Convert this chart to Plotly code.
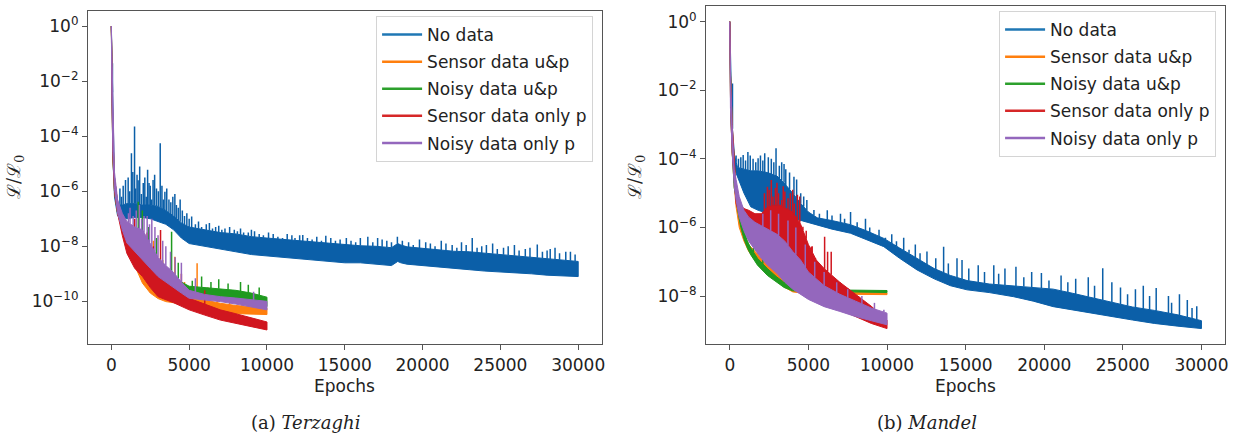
import numpy as np
import plotly.graph_objects as go

# ---------------- DATA (log10 of L/L0) ----------------
series_names = ["No data", "Sensor data u&p", "Noisy data u&p", "Sensor data only p", "Noisy data only p"]
x_ticks = [0, 5000, 10000, 15000, 20000, 25000, 30000]
left_y_exps = [0, -2, -4, -6, -8, -10]
right_y_exps = [0, -2, -4, -6, -8]
captions = ["(a) <i>Terzaghi</i>", "(b) <i>Mandel</i>"]

# ---- (a) Terzaghi ----
T_nodata_ep = [0, 40, 100, 200, 400, 700, 1000, 1500, 2000, 2500, 3000, 3500, 4000, 4500, 5000, 6000, 7000, 8000, 9000, 10000,
               11000, 12000, 13000, 14000, 15000, 16000, 17000, 18000, 18400, 18600, 19000, 20000, 21000, 22000, 23000,
               24000, 25000, 26000, 27000, 28000, 29000, 30000]
T_nodata_hi = [0, -1.3, -3.5, -5.6, -6.5, -6.5, -6.45, -6.45, -6.5, -6.5, -6.55, -6.7, -6.9, -7.15, -7.3, -7.4, -7.5, -7.55, -7.65, -7.7,
               -7.75, -7.8, -7.85, -7.9, -7.95, -7.98, -8.0, -8.05, -7.9, -7.95, -8.02, -8.08, -8.12, -8.18, -8.2,
               -8.25, -8.3, -8.35, -8.4, -8.45, -8.5, -8.55]
T_nodata_lo = [0, -2.5, -4.8, -6.2, -6.9, -7.0, -7.0, -6.95, -6.95, -7.0, -7.1, -7.2, -7.4, -7.7, -7.9, -8.0, -8.1, -8.2, -8.3, -8.35,
               -8.4, -8.45, -8.5, -8.55, -8.6, -8.6, -8.65, -8.7, -8.55, -8.6, -8.65, -8.7, -8.75, -8.8, -8.85,
               -8.9, -8.92, -8.97, -9.0, -9.05, -9.08, -9.1]
T_nodata_spk_ep = [70, 550, 650, 760, 910, 1080, 1180, 1290, 1380, 1490, 1560, 1650, 1720, 1820, 1930, 2050, 2150, 2240, 2330,
                   2420, 2500, 2590, 2680, 2780, 2900, 3020, 3140, 3250, 3340, 3440, 3560, 3700, 3820, 3950, 4080, 4180,
                   4300, 4420, 4560, 4700, 4850, 5000, 5160, 5400, 5600, 5800, 6100, 6300, 6500, 6700, 6900, 7100, 7300,
                   7600, 7900, 8100, 8300, 8500, 8800, 9000, 9200, 9500, 9770, 10100, 10400, 10700, 11000, 11300, 11600,
                   11800, 12100, 12300, 12600, 12900, 13200, 13500, 13780, 14100, 14400, 14700, 15100, 15400, 15700,
                   16000, 16480, 16800, 17110, 17400, 17700, 18000, 18380, 18700, 19100, 19400, 19800, 20200, 20500,
                   20800, 21200, 21500, 21900, 22200, 22500, 22800, 23190, 23500, 23800, 24100, 24500, 24800, 25200,
                   25500, 25900, 26200, 26600, 26900, 27370, 27700, 28000, 28200, 28510, 28800, 29200, 29500, 29800]
T_nodata_spk_top = [-1.35, -5.9, -6.2, -5.8, -5.59, -5.5, -6.0, -4.62, -5.3, -3.65, -5.9, -5.4, -5.6, -5.1, -6.1, -5.7, -5.5, -6.2, -5.22,
                    -5.7, -5.8, -6.3, -5.59, -5.4, -5.9, -6.0, -4.26, -5.8, -6.3, -6.02, -5.9, -6.3, -6.4, -6.2, -6.1, -6.5,
                    -6.6, -6.3, -6.7, -6.9, -6.8, -7.0, -6.92, -7.2, -7.1, -7.3, -7.2, -7.15, -7.35, -7.3, -7.25, -7.4, -7.35,
                    -7.3, -7.4, -7.45, -7.35, -7.5, -7.5, -7.4, -7.45, -7.55, -7.6, -7.5, -7.55, -7.65, -7.7, -7.55, -7.6,
                    -7.7, -7.6, -7.59, -7.7, -7.75, -7.65, -7.8, -7.62, -7.7, -7.8, -7.75, -7.7, -7.8, -7.85,
                    -7.7, -7.65, -7.85, -7.7, -7.75, -7.8, -7.85, -7.65, -7.8, -7.85, -7.95, -7.75, -7.85, -7.9,
                    -8.0, -7.8, -7.9, -7.95, -8.05, -7.85, -7.95, -7.7, -8.05, -8.0, -7.95, -7.9, -8.1, -8.05,
                    -8.0, -7.95, -8.15, -8.1, -8.05, -7.93, -8.2, -8.15, -8.1, -8.05, -8.25, -8.2, -8.2, -8.3]

T_sensor_up_ep = [0, 40, 100, 200, 400, 700, 1000, 1500, 2000, 2500, 3000, 3500, 4000, 5000, 6000, 7000, 8000, 9000, 10000]
T_sensor_up_hi = [0, -1.8, -4.0, -5.5, -6.4, -6.9, -7.3, -7.9, -8.2, -8.6, -8.9, -9.2, -9.5, -9.83, -9.95, -10.07, -10.15, -10.2, -10.25]
T_sensor_up_lo = [0, -2.8, -4.8, -6.0, -6.8, -7.4, -7.9, -8.7, -9.34, -9.7, -9.9, -10.01, -10.05, -10.19, -10.3, -10.43, -10.46, -10.47, -10.48]
T_sensor_up_spk_ep = [2700, 3300, 4080, 4700, 5510, 6200, 6800, 7600, 8400, 9100]
T_sensor_up_spk_top = [-7.8, -8.5, -8.38, -9.3, -8.62, -9.5, -9.7, -9.8, -9.9, -9.9]

T_noisy_up_ep = [0, 40, 100, 200, 400, 700, 1000, 1500, 2000, 2500, 3000, 3500, 4000, 4500, 5000, 6000, 7000, 8000, 9000, 10000]
T_noisy_up_hi = [0, -1.8, -4.0, -5.5, -6.4, -6.9, -7.3, -7.7, -8.0, -8.3, -8.6, -8.9, -9.1, -9.3, -9.45, -9.5, -9.55, -9.6, -9.7, -9.85]
T_noisy_up_lo = [0, -2.8, -4.8, -6.0, -6.8, -7.3, -7.8, -8.5, -9.0, -9.3, -9.5, -9.65, -9.75, -9.8, -9.8, -9.85, -9.89, -9.95, -10.05, -10.19]
T_noisy_up_spk_ep = [1730, 1990, 2400, 2900, 3870, 4300, 5200, 5800, 6400, 6900, 7500, 8300, 8800, 9500]
T_noisy_up_spk_top = [-6.38, -6.7, -7.3, -7.7, -7.47, -8.6, -9.25, -9.1, -9.3, -9.2, -9.35, -9.3, -9.4, -9.5]

T_sensor_p_ep = [0, 40, 100, 200, 400, 700, 1000, 1500, 2000, 2500, 3000, 3500, 4000, 5000, 6000, 7000, 8000, 9000, 10000]
T_sensor_p_hi = [0, -1.8, -4.0, -5.5, -6.4, -6.9, -7.4, -8.0, -8.5, -8.8, -9.0, -9.3, -9.5, -9.89, -10.1, -10.31, -10.45, -10.6, -10.75]
T_sensor_p_lo = [0, -2.8, -4.8, -6.0, -6.8, -7.6, -8.26, -8.8, -9.1, -9.5, -9.83, -9.95, -10.05, -10.31, -10.5, -10.68, -10.8, -10.92, -11.04]
T_sensor_p_spk_ep = [1500, 2300, 2700, 3160, 4500, 6000]
T_sensor_p_spk_top = [-7.0, -7.5, -8.0, -7.41, -9.0, -9.6]

T_noisy_p_ep = [0, 30, 100, 200, 400, 700, 1000, 1500, 2000, 2500, 3000, 3500, 4000, 4500, 5000, 6000, 7000, 8000, 9000, 10000]
T_noisy_p_hi = [0, -1.0, -3.5, -5.3, -6.3, -6.8, -7.1, -7.3, -7.4, -7.9, -8.4, -8.7, -8.95, -9.3, -9.6, -9.75, -9.83, -9.88, -9.95, -10.0]
T_noisy_p_lo = [0, -2.5, -4.6, -5.9, -6.8, -7.4, -7.88, -8.2, -8.5, -8.8, -9.1, -9.3, -9.5, -9.7, -9.89, -9.95, -10.01, -10.1, -10.2, -10.31]
T_noisy_p_spk_ep = [1100, 1200, 1400, 1600, 1800, 1950, 2100, 2300, 2450, 2600, 2800, 3000, 3300, 3500, 3800, 4100, 4500, 5400, 9140]
T_noisy_p_spk_top = [-6.8, -6.6, -6.9, -6.7, -6.5, -7.0, -6.9, -6.9, -7.2, -7.0, -7.3, -7.6, -7.8, -8.0, -8.2, -8.4, -8.6, -9.16, -9.65]

# ---- (b) Mandel ----
M_nodata_ep = [0, 60, 150, 300, 490, 900, 1335, 1800, 2390, 3000, 3450, 4000, 4510, 5000, 5565, 6500, 7680, 8700, 9795, 10800,
               11910, 13000, 14030, 15090, 16500, 18050, 19300, 20570, 21800, 23080, 24300, 25610, 27000, 28500, 30000]
M_nodata_hi = [0, -1.6, -3.0, -3.9, -4.25, -4.3, -4.35, -4.35, -4.4, -4.5, -4.7, -5.0, -5.3, -5.55, -5.72, -5.8, -5.92, -6.1, -6.32, -6.6,
               -6.9, -7.2, -7.4, -7.55, -7.65, -7.7, -7.75, -7.8, -7.92, -8.05, -8.18, -8.32, -8.42, -8.55, -8.72]
M_nodata_lo = [0, -2.5, -3.6, -4.3, -4.52, -5.0, -5.4, -5.5, -5.59, -5.65, -5.69, -5.73, -5.78, -5.85, -5.93, -6.05, -6.17, -6.35, -6.56, -6.9,
               -7.24, -7.5, -7.7, -7.82, -7.9, -8.02, -8.15, -8.31, -8.4, -8.5, -8.6, -8.7, -8.8, -8.88, -8.95]
M_nodata_spk_ep = [170, 400, 550, 700, 850, 1000, 1150, 1300, 1480, 1650, 1800, 1950, 2100, 2220, 2450, 2640, 2800, 2940, 3150,
                   3300, 3450, 3560, 3800, 4080, 4250, 4510, 4700, 4900, 5350, 5700, 6200, 6500, 7040, 7300, 7680, 8100,
                   8630, 8900, 9490, 9900, 10300, 10600, 11060, 11400, 11800, 12100, 12540, 13100, 13600, 13900, 14450,
                   14770, 15200, 15800, 16200, 16790, 17100, 17500, 18200, 18700, 19200, 19820, 20300, 21070, 21500,
                   22000, 22800, 23200, 23720, 24300, 24850, 25300, 25800, 26300, 26700, 27120, 27900, 28100, 28600,
                   29100, 29400, 29700]
M_nodata_spk_top = [-1.8, -3.9, -4.0, -3.95, -3.89, -4.05, -3.8, -3.9, -4.0, -4.1, -3.98, -3.9, -4.05, -3.84, -3.95, -4.0, -4.1, -3.69,
                    -4.2, -4.1, -4.15, -4.3, -4.4, -4.52, -4.6, -5.0, -5.1, -5.2, -5.49, -5.6, -5.5, -5.65, -5.6, -5.75, -5.55,
                    -5.85, -5.75, -6.0, -6.07, -6.3, -6.2, -6.4, -6.3, -6.65, -6.5, -6.75, -6.7, -6.9, -6.56, -7.05, -6.9,
                    -6.95, -7.2, -7.1, -7.3, -7.1, -7.35, -7.2, -7.15, -7.45, -7.3, -7.33, -7.55, -7.4, -7.6,
                    -7.5, -7.45, -7.7, -7.19, -7.6, -7.75, -7.95, -7.8, -7.7, -8.0, -7.77, -8.0, -8.2, -7.95,
                    -8.12, -8.35, -8.3]

M_sensor_up_ep = [0, 50, 150, 280, 400, 600, 900, 1200, 1600, 2000, 2500, 3000, 3500, 4000, 5000, 7000, 10000]
M_sensor_up_hi = [0, -1.6, -3.0, -4.2, -5.0, -5.7, -6.2, -6.5, -6.7, -6.9, -7.1, -7.3, -7.6, -7.8, -7.88, -7.9, -7.91]
M_sensor_up_lo = [0, -2.5, -3.8, -4.8, -5.4, -6.0, -6.4, -6.7, -6.95, -7.15, -7.35, -7.55, -7.75, -7.88, -7.94, -7.95, -7.96]
M_sensor_up_spk_ep = [1760, 2000, 2400, 2900]
M_sensor_up_spk_top = [-6.5, -6.6, -6.8, -7.0]

M_noisy_up_ep = [0, 50, 150, 280, 350, 500, 700, 910, 1120, 1335, 1760, 2390, 3000, 3450, 4000, 4510, 6000, 8000, 10000]
M_noisy_up_hi = [0, -1.6, -3.0, -4.7, -4.75, -5.1, -5.69, -6.1, -6.4, -6.6, -6.9, -7.2, -7.45, -7.6, -7.75, -7.8, -7.82, -7.83, -7.84]
M_noisy_up_lo = [0, -2.5, -3.8, -4.85, -5.0, -5.5, -6.0, -6.35, -6.6, -6.8, -7.1, -7.4, -7.6, -7.75, -7.85, -7.87, -7.88, -7.89, -7.9]
M_noisy_up_spk_ep = [1500, 2100]
M_noisy_up_spk_top = [-6.6, -6.9]

M_sensor_p_ep = [0, 50, 150, 280, 400, 600, 900, 1200, 1600, 2000, 2400, 2800, 3200, 3600, 4000, 4500, 5000, 5500, 6000, 6500,
                 7000, 8000, 9000, 10000]
M_sensor_p_hi = [0, -1.6, -3.0, -4.0, -4.9, -5.3, -5.45, -5.5, -5.6, -5.6, -5.4, -5.35, -5.35, -5.45, -5.55, -5.9, -6.5, -6.95, -7.2, -7.4,
                 -7.6, -7.95, -8.3, -8.7]
M_sensor_p_lo = [0, -2.5, -3.8, -4.6, -5.3, -5.6, -5.75, -5.8, -5.9, -6.0, -6.2, -6.5, -6.8, -7.0, -7.2, -7.4, -7.6, -7.85, -8.1, -8.25,
                 -8.4, -8.6, -8.8, -8.95]
M_sensor_p_spk_ep = [2200, 2390, 2500, 2640, 2750, 2900, 3000, 3100, 3300, 3400, 3500, 3700, 3850, 4000, 4100, 4300, 4450, 4650,
                     4860, 5180, 5240, 5460, 6030, 6220, 6450, 7000, 7500, 8200]
M_sensor_p_spk_top = [-5.0, -4.81, -4.9, -4.62, -5.1, -4.85, -4.7, -5.0, -5.2, -4.8, -4.95, -5.15, -5.0, -4.9, -5.3, -5.05, -5.1, -5.98,
                      -6.1, -6.56, -6.55, -6.9, -6.27, -6.71, -6.71, -7.7, -7.8, -8.2]

M_noisy_p_ep = [0, 40, 150, 280, 400, 600, 900, 1200, 1600, 2000, 2400, 3000, 3500, 4000, 4500, 5000, 6000, 7000, 8000, 9000, 10000]
M_noisy_p_hi = [0, -1.5, -3.0, -4.3, -4.6, -5.1, -5.5, -5.7, -5.85, -5.95, -6.05, -6.2, -6.4, -6.7, -6.95, -7.3, -7.7, -7.95, -8.15, -8.35, -8.5]
M_noisy_p_lo = [0, -2.5, -3.8, -4.8, -5.2, -5.7, -6.1, -6.4, -6.65, -6.9, -7.1, -7.34, -7.6, -7.8, -7.95, -8.1, -8.31, -8.45, -8.6, -8.72, -8.84]
M_noisy_p_spk_ep = [2100, 2600, 3100, 3700, 4200, 4800, 5400, 6000, 6800, 7500, 8400, 9200, 9800]
M_noisy_p_spk_top = [-5.6, -5.5, -5.6, -5.8, -6.0, -6.5, -7.0, -7.3, -7.6, -7.8, -8.0, -8.2, -8.4]

# ---------------- STYLE ----------------
legend_colors = ["#1f77b4", "#ff7f0e", "#2ca02c", "#d62728", "#9467bd"]
band_colors = ["#0b5fa8", "#ff7f0e", "#1f9a1f", "#d0161f", "#9467bd"]
W, H = 1245, 436
FONT = "DejaVu Sans"
TXT = "#222222"

def px_x(p):
    return p / W

def px_y(p):
    return 1 - p / H

panels = [
    dict(xa="x", ya="y", legend="legend",
         series=[(T_nodata_ep, T_nodata_hi, T_nodata_lo, T_nodata_spk_ep, T_nodata_spk_top),
                 (T_sensor_up_ep, T_sensor_up_hi, T_sensor_up_lo, T_sensor_up_spk_ep, T_sensor_up_spk_top),
                 (T_noisy_up_ep, T_noisy_up_hi, T_noisy_up_lo, T_noisy_up_spk_ep, T_noisy_up_spk_top),
                 (T_sensor_p_ep, T_sensor_p_hi, T_sensor_p_lo, T_sensor_p_spk_ep, T_sensor_p_spk_top),
                 (T_noisy_p_ep, T_noisy_p_hi, T_noisy_p_lo, T_noisy_p_spk_ep, T_noisy_p_spk_top)]),
    dict(xa="x2", ya="y2", legend="legend2",
         series=[(M_nodata_ep, M_nodata_hi, M_nodata_lo, M_nodata_spk_ep, M_nodata_spk_top),
                 (M_sensor_up_ep, M_sensor_up_hi, M_sensor_up_lo, M_sensor_up_spk_ep, M_sensor_up_spk_top),
                 (M_noisy_up_ep, M_noisy_up_hi, M_noisy_up_lo, M_noisy_up_spk_ep, M_noisy_up_spk_top),
                 (M_sensor_p_ep, M_sensor_p_hi, M_sensor_p_lo, M_sensor_p_spk_ep, M_sensor_p_spk_top),
                 (M_noisy_p_ep, M_noisy_p_hi, M_noisy_p_lo, M_noisy_p_spk_ep, M_noisy_p_spk_top)]),
]

fig = go.Figure()
for pi, pan in enumerate(panels):
    for si, (ep, hi, lo, sep, stop) in enumerate(pan["series"]):
        col = band_colors[si]
        bx = list(ep) + list(ep)[::-1]
        by = [10.0 ** v for v in hi] + [10.0 ** v for v in lo][::-1]
        fig.add_trace(go.Scatter(x=bx, y=by, xaxis=pan["xa"], yaxis=pan["ya"], mode="lines", fill="toself",
                                 fillcolor=col, line=dict(color=col, width=1), showlegend=False, hoverinfo="skip"))
        base = np.interp(sep, ep, hi)
        sx, sy = [], []
        for e, b, t in zip(sep, base, stop):
            sx += [e, e, None]
            sy += [10.0 ** b, 10.0 ** t, None]
        fig.add_trace(go.Scatter(x=sx, y=sy, xaxis=pan["xa"], yaxis=pan["ya"], mode="lines",
                                 line=dict(color=col, width=1.5), showlegend=False, hoverinfo="skip"))
    for si, name in enumerate(series_names):
        fig.add_trace(go.Scatter(x=[None], y=[None], xaxis=pan["xa"], yaxis=pan["ya"], mode="lines",
                                 line=dict(color=legend_colors[si], width=2.5), name=name,
                                 legend=pan["legend"], legendgroup=f"p{pi}s{si}", showlegend=True))

axis_common = dict(showline=True, mirror=True, linecolor="#555555", linewidth=1.3, showgrid=False, zeroline=False,
                   ticks="outside", ticklen=5, tickwidth=1.1, tickcolor="#555555",
                   tickfont=dict(family=FONT, size=17, color=TXT))

xdomL = [px_x(88.3), px_x(603.5)]
xdomR = [px_x(708.5), px_x(1229)]
ydomL = [px_y(344), px_y(11)]
ydomR = [px_y(344), px_y(5.7)]

fig.update_layout(
    width=W, height=H, margin=dict(l=0, r=0, t=0, b=0),
    paper_bgcolor="white", plot_bgcolor="white",
    xaxis=dict(domain=xdomL, anchor="y", range=[-1500, 31500], tickvals=x_ticks,
               ticktext=[str(v) for v in x_ticks], **axis_common),
    yaxis=dict(domain=ydomL, anchor="x", type="log", range=[-11.55, 0.55],
               tickvals=[10.0 ** e for e in left_y_exps],
               ticktext=["10<sup>" + str(e).replace("-", "\u2212") + "</sup>" for e in left_y_exps], **axis_common),
    xaxis2=dict(domain=xdomR, anchor="y2", range=[-1500, 31500], tickvals=x_ticks,
                ticktext=[str(v) for v in x_ticks], **axis_common),
    yaxis2=dict(domain=ydomR, anchor="x2", type="log", range=[-9.40, 0.467],
                tickvals=[10.0 ** e for e in right_y_exps],
                ticktext=["10<sup>" + str(e).replace("-", "\u2212") + "</sup>" for e in right_y_exps], **axis_common),
    legend=dict(x=px_x(595), y=px_y(16), xanchor="right", yanchor="top", bgcolor="rgba(255,255,255,0.85)",
                bordercolor="#d4d4d4", borderwidth=1, font=dict(family=FONT, size=17, color=TXT),
                traceorder="grouped", tracegroupgap=2, itemwidth=40),
    legend2=dict(x=px_x(1220), y=px_y(11), xanchor="right", yanchor="top", bgcolor="rgba(255,255,255,0.85)",
                 bordercolor="#d4d4d4", borderwidth=1, font=dict(family=FONT, size=17, color=TXT),
                 traceorder="grouped", tracegroupgap=2, itemwidth=40),
)

annots = []
for cx, cap in zip([306, 930], captions):
    annots.append(dict(text=cap, x=px_x(cx), y=px_y(422), xref="paper", yref="paper", showarrow=False,
                       xanchor="center", yanchor="middle", font=dict(family="DejaVu Serif", size=18, color=TXT)))
for cx in [(88.3 + 603.5) / 2, (708.5 + 1229) / 2]:
    annots.append(dict(text="Epochs", x=px_x(cx), y=px_y(386), xref="paper", yref="paper", showarrow=False,
                       xanchor="center", yanchor="middle", font=dict(family=FONT, size=17, color=TXT)))
for lx in [15, 638]:
    annots.append(dict(text="\u2112/\u2112<sub>0</sub>", x=px_x(lx), y=px_y(177), xref="paper", yref="paper",
                       showarrow=False, textangle=-90, xanchor="center", yanchor="middle",
                       font=dict(family="DejaVu Serif", size=18, color=TXT)))
fig.update_layout(annotations=annots)

fig.write_html("out.html", config={"displayModeBar": False},
               post_script="document.body.style.margin='0';document.body.style.overflow='hidden';")
